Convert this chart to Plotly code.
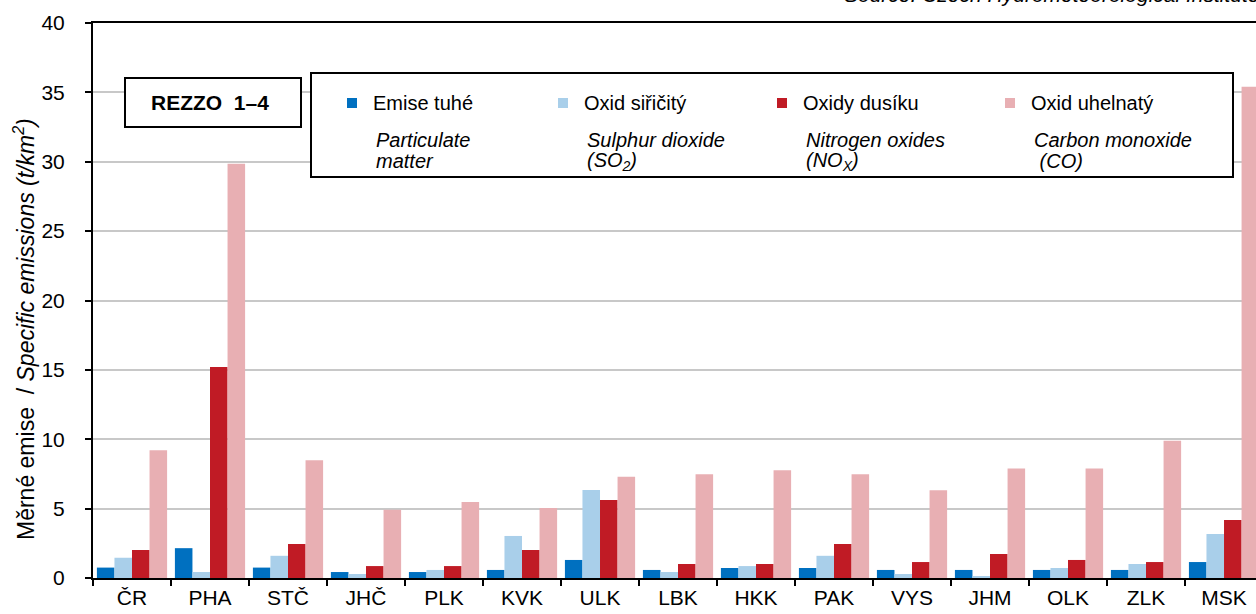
import plotly.graph_objects as go

categories = ["ČR", "PHA", "STČ", "JHČ", "PLK", "KVK", "ULK", "LBK", "HKK", "PAK", "VYS", "JHM", "OLK", "ZLK", "MSK"]
particulate = [0.75, 2.15, 0.75, 0.43, 0.43, 0.58, 1.3, 0.58, 0.72, 0.72, 0.58, 0.58, 0.58, 0.58, 1.15]
so2 = [1.46, 0.43, 1.6, 0.29, 0.58, 3.03, 6.34, 0.43, 0.86, 1.6, 0.29, 0.14, 0.72, 1.01, 3.17]
nox = [2.02, 15.2, 2.45, 0.86, 0.86, 2.02, 5.62, 1.01, 1.01, 2.45, 1.15, 1.73, 1.3, 1.15, 4.18]
co = [9.2, 29.85, 8.48, 4.92, 5.48, 5.04, 7.3, 7.47, 7.76, 7.47, 6.32, 7.9, 7.9, 9.9, 35.4]

series_cz = ["Emise tuhé", "Oxid siřičitý", "Oxidy dusíku", "Oxid uhelnatý"]
series_en_1 = ["Particulate", "Sulphur dioxide", "Nitrogen oxides", "Carbon monoxide"]
series_en_2 = ["matter", "(SO<sub>2</sub>)", "(NO<sub>X</sub>)", " (CO)"]
colors = ["#0070C0", "#A9CFEA", "#C01B25", "#E8AFB3"]
y_ticks = [0, 5, 10, 15, 20, 25, 30, 35, 40]

W, H = 1256, 614
L, R, T, B = 93, 0, 23, 36
PW, PH = W - L - R, H - T - B


def px(x):
    return (x - L) / PW


def py(y):
    return (H - B - y) / PH


fig = go.Figure()
for name, vals, col in zip(series_cz, [particulate, so2, nox, co], colors):
    fig.add_trace(go.Bar(x=categories, y=vals, name=name, marker_color=col,
                         marker_line_width=0, showlegend=False))

shapes = []
annotations = []

# legend box
shapes.append(dict(type="rect", xref="paper", yref="paper",
                   x0=px(311), x1=px(1233), y0=py(177), y1=py(73),
                   line=dict(color="black", width=2), fillcolor="white", layer="above"))
# REZZO box
shapes.append(dict(type="rect", xref="paper", yref="paper",
                   x0=px(125), x1=px(301), y0=py(127), y1=py(78),
                   line=dict(color="black", width=2), fillcolor="white", layer="above"))
annotations.append(dict(xref="paper", yref="paper", x=px(210), y=py(103),
                        text="<b>REZZO  1–4</b>", showarrow=False,
                        font=dict(size=21, color="black"), xanchor="center", yanchor="middle"))

sq_x = [352, 563, 782, 1010]
for i in range(4):
    cx = sq_x[i]
    shapes.append(dict(type="rect", xref="paper", yref="paper",
                       x0=px(cx - 5), x1=px(cx + 5), y0=py(108), y1=py(98),
                       line=dict(width=0), fillcolor=colors[i], layer="above"))
    annotations.append(dict(xref="paper", yref="paper", x=px(cx + 19), y=py(103),
                            text=series_cz[i], showarrow=False, xanchor="left", yanchor="middle",
                            font=dict(size=20, color="black")))
    annotations.append(dict(xref="paper", yref="paper", x=px(cx + 22), y=py(140),
                            text="<i>" + series_en_1[i] + "</i>", showarrow=False,
                            xanchor="left", yanchor="middle",
                            font=dict(size=20, color="black")))
    annotations.append(dict(xref="paper", yref="paper", x=px(cx + 22), y=py(161),
                            text="<i>" + series_en_2[i] + "</i>", showarrow=False,
                            xanchor="left", yanchor="middle",
                            font=dict(size=20, color="black")))

# y-axis title
annotations.append(dict(xref="paper", yref="paper", x=px(24), y=py(329),
                        text="Měrné emise  / <i>Specific emissions (t/km<sup>2</sup>)</i>",
                        textangle=-90, showarrow=False, xanchor="center", yanchor="middle",
                        font=dict(size=23, color="black")))
# source (cut at top)
annotations.append(dict(xref="paper", yref="paper", x=px(1262), y=py(-6),
                        text="<i>Source: Czech Hydrometeorological Institute</i>",
                        showarrow=False, xanchor="right", yanchor="middle",
                        font=dict(size=21, color="black")))

fig.update_layout(
    width=W, height=H,
    margin=dict(l=L, r=R, t=T, b=B, pad=0),
    paper_bgcolor="white", plot_bgcolor="white",
    barmode="group", bargap=0.1, bargroupgap=0,
    font=dict(family="Liberation Sans, Arial, sans-serif", color="black"),
    shapes=shapes, annotations=annotations,
)
fig.update_xaxes(range=[-0.5, 14.41], showline=True, linecolor="black", linewidth=2,
                 mirror=True, ticks="outside", tickson="boundaries", ticklen=6,
                 tickwidth=2, tickcolor="black", showgrid=False,
                 tickfont=dict(size=21, color="black"))
fig.update_yaxes(range=[0, 40], tickvals=y_ticks, showline=True, linecolor="black",
                 linewidth=2, ticks="outside", ticklen=6, tickwidth=2, tickcolor="black",
                 ticklabelstandoff=16,
                 showgrid=True, gridcolor="#C8C8C8", gridwidth=2, zeroline=False,
                 tickfont=dict(size=21, color="black"))

fig.write_html("out.html", config={"displayModeBar": False},
               post_script="document.body.style.margin='0px';document.body.style.overflow='hidden';")
